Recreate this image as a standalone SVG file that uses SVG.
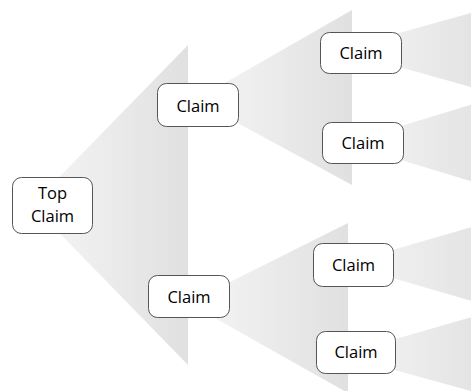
<svg xmlns="http://www.w3.org/2000/svg" width="471" height="391" viewBox="0 0 471 391">
<defs>
<linearGradient id="fan" x1="0" y1="0" x2="1" y2="0">
<stop offset="0" stop-color="#f6f6f6"/>
<stop offset="1" stop-color="#e0e0e0"/>
</linearGradient>
<style>
.fan{fill:url(#fan);stroke:none}
.box{fill:#ffffff;stroke:#555555;stroke-width:1}
.lbl{font-family:"Open Sans","Noto Sans","Liberation Sans",sans-serif;font-size:16.5px;fill:#000000;text-anchor:middle}
</style>
</defs>
<rect width="471" height="391" fill="#ffffff"/>
<g id="connectors">
<polygon class="fan" points="32,205 188,45 188,365"/>
<polygon class="fan" points="195,100 352,10 352,185"/>
<polygon class="fan" points="188,303 348,223 348,393"/>
<polygon class="fan" points="338,50 500,5 500,95"/>
<polygon class="fan" points="345,143 500,96 500,190"/>
<polygon class="fan" points="344,264 500,219 500,309"/>
<polygon class="fan" points="340,355 500,309 500,399"/>
</g>
<g id="top-claim">
<rect class="box" x="12.5" y="177.5" width="80" height="56" rx="9"/>
<text class="lbl" x="52.5" y="199">Top</text>
<text class="lbl" x="52.5" y="222">Claim</text>
</g>
<g id="claim-1">
<rect class="box" x="157.5" y="83.5" width="81" height="43" rx="9"/>
<text class="lbl" x="198" y="112">Claim</text>
</g>
<g id="claim-2">
<rect class="box" x="148.5" y="275.5" width="81" height="42" rx="9"/>
<text class="lbl" x="189" y="303">Claim</text>
</g>
<g id="claim-1-1">
<rect class="box" x="320.5" y="32.5" width="81" height="41" rx="9"/>
<text class="lbl" x="361" y="59">Claim</text>
</g>
<g id="claim-1-2">
<rect class="box" x="322.5" y="122.5" width="81" height="41" rx="9"/>
<text class="lbl" x="363" y="149">Claim</text>
</g>
<g id="claim-2-1">
<rect class="box" x="313.5" y="243.5" width="80" height="43" rx="9"/>
<text class="lbl" x="353.5" y="271">Claim</text>
</g>
<g id="claim-2-2">
<rect class="box" x="316.5" y="331.5" width="79" height="42" rx="9"/>
<text class="lbl" x="356" y="358">Claim</text>
</g>
</svg>
